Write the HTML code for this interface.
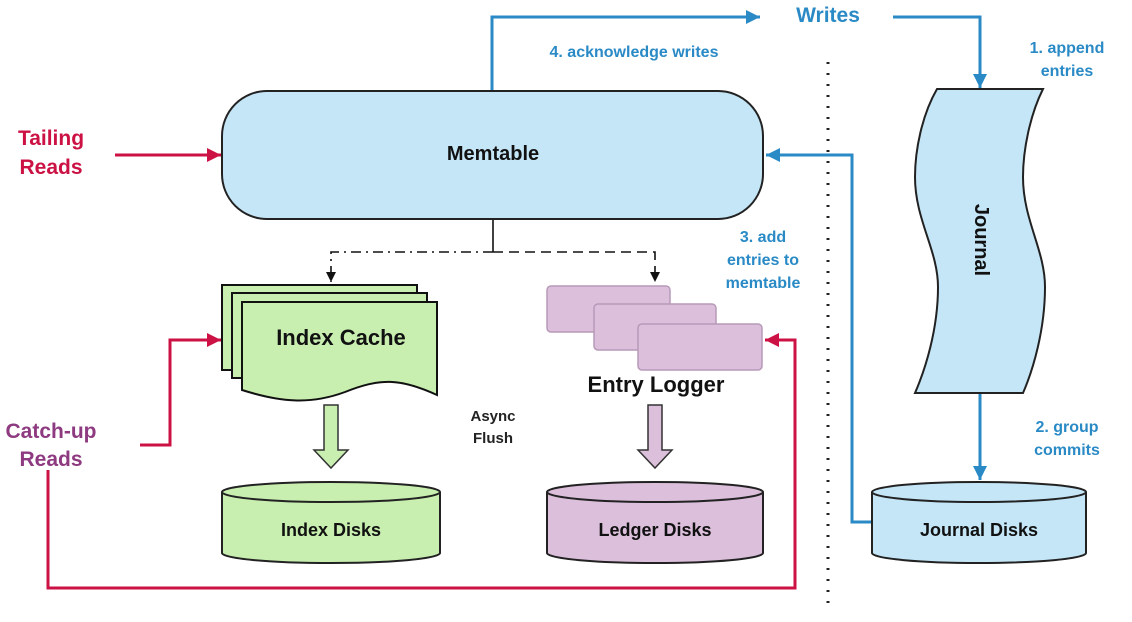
<!DOCTYPE html><html><head><style>body{margin:0;background:#fff}svg{display:block;font-family:"Liberation Sans",sans-serif;font-weight:bold}</style></head><body>
<svg width="1132" height="622" viewBox="0 0 1132 622">
<defs>
<marker id="ba" viewBox="0 0 10 10" refX="10" refY="5" markerWidth="16" markerHeight="14" orient="auto" markerUnits="userSpaceOnUse"><path d="M0,0L10,5L0,10z" fill="#2a8ac6"/></marker>
<marker id="ra" viewBox="0 0 10 10" refX="10" refY="5" markerWidth="16" markerHeight="14" orient="auto" markerUnits="userSpaceOnUse"><path d="M0,0L10,5L0,10z" fill="#cc1144"/></marker>
<marker id="ka" viewBox="0 0 10 10" refX="10" refY="5" markerWidth="12" markerHeight="10" orient="auto" markerUnits="userSpaceOnUse"><path d="M0,0L10,5L0,10z" fill="#111"/></marker>
</defs>
<g stroke="#2a8ac6" stroke-width="3" fill="none">
<path d="M492,91V17H760" marker-end="url(#ba)"/>
<path d="M893,17H980V88" marker-end="url(#ba)"/>
<path d="M980,393V480" marker-end="url(#ba)"/>
<path d="M872,522H852V155H766" marker-end="url(#ba)"/>
</g>
<line x1="828" y1="62" x2="828" y2="612" stroke="#222" stroke-width="3" stroke-dasharray="2,9"/>
<g stroke="#cc1144" stroke-width="3" fill="none">
<path d="M115,155H221" marker-end="url(#ra)"/>
<path d="M140,445H170V340H221" marker-end="url(#ra)"/>
<path d="M48,470V588H795V340H765" marker-end="url(#ra)"/>
</g>
<rect x="222" y="91" width="541" height="128" rx="45" fill="#c5e6f7" stroke="#222" stroke-width="2"/>
<text x="493" y="160" text-anchor="middle" font-size="20" fill="#111">Memtable</text>
<g stroke="#111" stroke-width="1.6" fill="none">
<path d="M493,220V252"/>
<path d="M493,252H331V282" stroke-dasharray="10,5,2,5" marker-end="url(#ka)"/>
<path d="M493,252H655V282" stroke-dasharray="10,6" marker-end="url(#ka)"/>
</g>
<g stroke="#111" stroke-width="2" fill="#c8efb0">
<path d="M222,285H417V370H222Z"/>
<path d="M232,293H427V378H232Z"/>
<path d="M242,302H437V395C400,378 380,378 345,392C310,405 280,402 242,390Z"/>
</g>
<text x="341" y="345" text-anchor="middle" font-size="22" fill="#111">Index Cache</text>
<g fill="#dbbfdb" stroke="#b89ab8" stroke-width="1.5">
<rect x="547" y="286" width="123" height="46" rx="4"/>
<rect x="594" y="304" width="122" height="46" rx="4"/>
<rect x="638" y="324" width="124" height="46" rx="4"/>
</g>
<text x="656" y="392" text-anchor="middle" font-size="22" fill="#111">Entry Logger</text>
<text x="493" y="421" text-anchor="middle" font-size="15" fill="#222">Async</text>
<text x="493" y="443" text-anchor="middle" font-size="15" fill="#222">Flush</text>
<path d="M324,405H338V450H348L331,468L314,450H324Z" fill="#c8efb0" stroke="#333" stroke-width="1.5"/>
<path d="M648,405H662V450H672L655,468L638,450H648Z" fill="#dbbfdb" stroke="#333" stroke-width="1.5"/>
<g stroke="#222" stroke-width="2">
<path d="M222,492V553A109,10 0 0 0 440,553V492" fill="#c8efb0"/><ellipse cx="331" cy="492" rx="109" ry="10" fill="#c8efb0"/>
<path d="M547,492V553A108,10 0 0 0 763,553V492" fill="#dbbfdb"/><ellipse cx="655" cy="492" rx="108" ry="10" fill="#dbbfdb"/>
<path d="M872,492V553A107,10 0 0 0 1086,553V492" fill="#c5e6f7"/><ellipse cx="979" cy="492" rx="107" ry="10" fill="#c5e6f7"/>
</g>
<g font-size="18" fill="#111" text-anchor="middle">
<text x="331" y="536">Index Disks</text><text x="655" y="536">Ledger Disks</text><text x="979" y="536">Journal Disks</text>
</g>
<path d="M937,89H1043C1030,115 1023,150 1023,177C1023,220 1045,250 1045,287C1045,330 1033,370 1023,393H915C925,370 938,330 938,287C938,250 915,220 915,177C915,150 922,115 937,89Z" fill="#c5e6f7" stroke="#222" stroke-width="2"/>
<text transform="translate(975,240) rotate(90)" text-anchor="middle" font-size="20" fill="#111">Journal</text>
<g fill="#2a8ac6">
<text x="828" y="22" text-anchor="middle" font-size="21">Writes</text>
<text x="634" y="57" text-anchor="middle" font-size="16">4. acknowledge writes</text>
<text x="1067" y="53" text-anchor="middle" font-size="16">1. append</text>
<text x="1067" y="76" text-anchor="middle" font-size="16">entries</text>
<text x="763" y="242" text-anchor="middle" font-size="16">3. add</text>
<text x="763" y="265" text-anchor="middle" font-size="16">entries to</text>
<text x="763" y="288" text-anchor="middle" font-size="16">memtable</text>
<text x="1067" y="432" text-anchor="middle" font-size="16">2. group</text>
<text x="1067" y="455" text-anchor="middle" font-size="16">commits</text>
</g>
<g font-size="21" text-anchor="middle">
<text x="51" y="145" fill="#cc1144">Tailing</text><text x="51" y="174" fill="#cc1144">Reads</text>
<text x="51" y="438" fill="#8e3a80">Catch-up</text><text x="51" y="466" fill="#8e3a80">Reads</text>
</g>
</svg></body></html>
